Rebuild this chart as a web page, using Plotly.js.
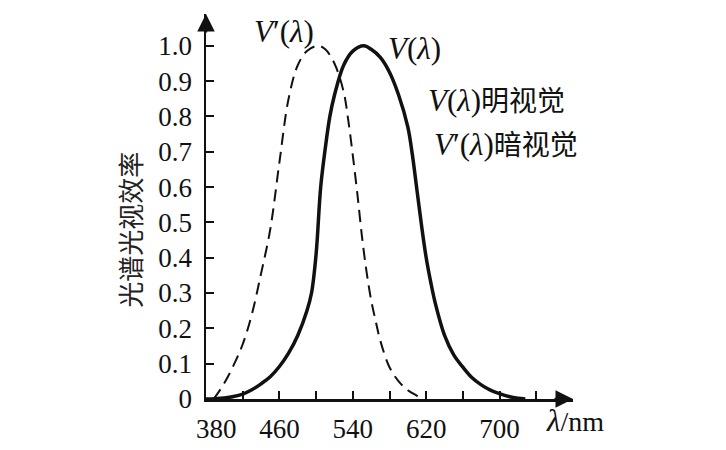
<!DOCTYPE html>
<html>
<head>
<meta charset="utf-8">
<script src="https://cdn.plot.ly/plotly-3.0.1.min.js"></script>
<style>
  html, body { margin: 0; padding: 0; background: #fff; }
  #chart { width: 726px; height: 450px; }
</style>
</head>
<body>
<div id="chart"></div>
<script>
// photopic curve V(λ)
const photopicNm = [380, 390, 400, 410, 420, 430, 440, 450, 460, 470, 480, 490, 495, 500, 505, 510, 515, 520, 530, 540, 552,
                    560, 570, 580, 590, 600, 605, 610, 615, 620, 625, 630, 640, 650, 660, 670, 680, 690, 700, 710, 720, 728];
const photopicV = [0, 0.001, 0.003, 0.007, 0.014, 0.026, 0.043, 0.063, 0.092, 0.13, 0.18, 0.25, 0.3, 0.41, 0.6, 0.71, 0.8, 0.86, 0.945, 0.985, 1.0,
                   0.99, 0.967, 0.925, 0.86, 0.77, 0.69, 0.59, 0.49, 0.4, 0.33, 0.27, 0.18, 0.125, 0.09, 0.06, 0.04, 0.025, 0.015, 0.007, 0.002, 0];

// scotopic curve V'(λ)
const scotopicNm = [388, 390, 400, 410, 420, 430, 440, 450, 460, 470, 480, 490, 502, 510, 520, 530, 535, 540, 545, 550,
                    555, 560, 565, 570, 580, 590, 600, 610, 616];
const scotopicV = [0, 0.006, 0.045, 0.095, 0.155, 0.24, 0.355, 0.48, 0.67, 0.85, 0.945, 0.985, 1.0, 0.99, 0.95, 0.87, 0.79, 0.69, 0.58, 0.46,
                   0.36, 0.28, 0.22, 0.165, 0.09, 0.05, 0.025, 0.009, 0];

const xTicks = [380, 420, 460, 500, 540, 580, 620, 660, 700, 740];
const xTickText = ['\u00a0\u00a0\u00a0380', '', '460', '', '540', '', '620', '', '700', ''];
const yTicks = [0, 0.1, 0.2, 0.3, 0.4, 0.5, 0.6, 0.7, 0.8, 0.9, 1.0];
const yTickText = ['0', '0.1', '0.2', '0.3', '0.4', '0.5', '0.6', '0.7', '0.8', '0.9', '1.0'];

const ink = '#111';
const serif = 'Liberation Serif, Noto Sans CJK SC, serif';
const cjk = 'Noto Sans CJK SC, sans-serif';

const traces = [
    {
        x: scotopicNm,
        y: scotopicV,
        mode: 'lines',
        line: {color: ink, width: 2, dash: '12px,7px', shape: 'spline', smoothing: 1},
        hoverinfo: 'skip'
    },
    {
        x: photopicNm,
        y: photopicV,
        mode: 'lines',
        line: {color: ink, width: 3.5, shape: 'spline', smoothing: 1},
        hoverinfo: 'skip'
    }
];

// italic V(λ) pieces are drawn a bit larger than the Chinese text
const vLam = '<span style="font-size:31px"><i>V</i>(<i>λ</i>)</span>';
const vpLam = '<span style="font-size:31px"><i>V</i>′(<i>λ</i>)</span>';

function label(text, x, y) {
    return {
        text: text, xref: 'paper', yref: 'paper', x: x, y: y,
        xanchor: 'left', yanchor: 'middle', showarrow: false,
        font: {family: serif, size: 28, color: ink}
    };
}

const layout = {
    width: 726,
    height: 450,
    margin: {l: 206, r: 153, t: 14, b: 51},
    paper_bgcolor: '#fff',
    plot_bgcolor: '#fff',
    showlegend: false,
    font: {family: serif, color: ink},
    xaxis: {
        range: [380, 780],
        showgrid: false,
        zeroline: false,
        showline: true,
        linecolor: ink,
        linewidth: 2.5,
        ticks: 'inside',
        ticklen: 8,
        tickwidth: 2,
        tickcolor: ink,
        tickvals: xTicks,
        ticktext: xTickText,
        ticklabelstandoff: 4,
        tickfont: {family: serif, size: 27, color: ink}
    },
    yaxis: {
        range: [0, 1.09],
        showgrid: false,
        zeroline: false,
        showline: true,
        linecolor: ink,
        linewidth: 2.5,
        ticks: 'inside',
        ticklen: 8,
        tickwidth: 2,
        tickcolor: ink,
        tickvals: yTicks,
        ticktext: yTickText,
        ticklabelstandoff: 6,
        tickfont: {family: serif, size: 27, color: ink}
    },
    annotations: [
        // axis arrow heads
        {x: 780, y: 0, xref: 'x', yref: 'y', ax: -20, ay: 0, text: '', showarrow: true,
         arrowhead: 2, arrowsize: 1.4, arrowwidth: 2.5, arrowcolor: ink},
        {x: 380, y: 1.09, xref: 'x', yref: 'y', ax: 0, ay: 20, text: '', showarrow: true,
         arrowhead: 2, arrowsize: 1.4, arrowwidth: 2.5, arrowcolor: ink},
        // axis titles
        {text: '<span style="font-size:31px"><i>λ</i></span>/nm', xref: 'paper', yref: 'paper', x: 0.92, y: -0.055,
         xanchor: 'left', yanchor: 'middle', showarrow: false,
         font: {family: serif, size: 28, color: ink}},
        {text: '光谱光视效率', xref: 'paper', yref: 'paper', x: -0.207, y: 0.44,
         xanchor: 'center', yanchor: 'middle', textangle: -90, showarrow: false,
         font: {family: cjk, size: 26, color: '#222'}},
        // curve names
        label(vpLam, 0.125, 0.955),
        label(vLam, 0.49, 0.91),
        label(vLam + '明视觉', 0.60, 0.776),
        label(vpLam + '暗视觉', 0.615, 0.66)
    ]
};

Plotly.newPlot('chart', traces, layout, {staticPlot: true, displayModeBar: false});
</script>
</body>
</html>
